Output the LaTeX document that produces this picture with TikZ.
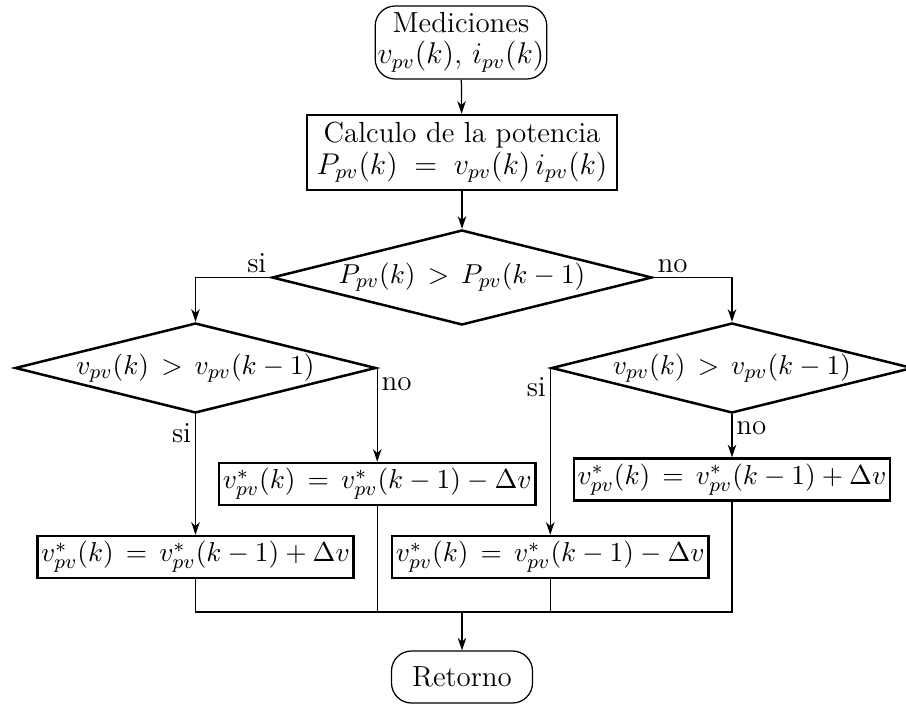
\documentclass[tikz,border=0pt]{standalone}
\usetikzlibrary{shapes.geometric,arrows.meta,calc}
\begin{document}
\begin{tikzpicture}[x=0.4pt,y=-0.4pt,
  every node/.style={font=\fontsize{11}{13}\selectfont},
  bigtext/.style={font=\fontsize{11.6}{13.5}\selectfont},
  term/.style={draw,rectangle,rounded corners=8pt,line width=0.5pt,align=center,inner sep=1pt,bigtext},
  proc/.style={draw,rectangle,line width=1pt,align=center,inner sep=1.5pt},
  dec/.style={draw,diamond,line width=1pt,inner sep=0pt,aspect=4},
  conn/.style={draw,line width=0.5pt,-{Stealth[length=5pt,width=3.4pt,inset=1.5pt]}},
  line/.style={draw,line width=0.5pt},
  lbl/.style={inner sep=1.5pt,bigtext}]
\useasboundingbox (0,0) rectangle (906,705);
% nodes
\node[term,minimum width=64.8pt,minimum height=29.2pt] (med) at (461,42.5)
  {Mediciones\\[-1pt]$v_{pv}(k),\, i_{pv}(k)$};
\node[proc,bigtext,minimum width=124pt,minimum height=30pt] (calc) at (462,152.5)
  {Calculo de la potencia\\[-1pt]$P_{pv}(k) \;=\; v_{pv}(k)\,i_{pv}(k)$};
\node[dec,minimum width=152pt,minimum height=38pt] (d1) at (462,277.5)
  {$P_{pv}(k) \,>\, P_{pv}(k-1)$};
\node[dec,minimum width=144.4pt,minimum height=36pt] (d2) at (195.5,368)
  {$v_{pv}(k) \,>\, v_{pv}(k-1)$};
\node[dec,minimum width=144.4pt,minimum height=36pt] (d3) at (732,368)
  {$v_{pv}(k) \,>\, v_{pv}(k-1)$};
\coordinate (yA) at (0,484);
\coordinate (yB) at (0,479.5);
\coordinate (yC) at (0,557);
\node[proc,minimum width=122.8pt,minimum height=16.8pt] (bA) at (d2.east |- yA)
  {$v^{*}_{pv}(k) \,=\, v^{*}_{pv}(k-1) - \Delta v$};
\node[proc,minimum width=123.6pt,minimum height=16.8pt] (bB) at (d3.south |- yB)
  {$v^{*}_{pv}(k) \,=\, v^{*}_{pv}(k-1) + \Delta v$};
\node[proc,minimum width=122.4pt,minimum height=16.8pt] (bC) at (d2.south |- yC)
  {$v^{*}_{pv}(k) \,=\, v^{*}_{pv}(k-1) + \Delta v$};
\node[proc,minimum width=123.2pt,minimum height=16.8pt] (bD) at (d3.west |- yC)
  {$v^{*}_{pv}(k) \,=\, v^{*}_{pv}(k-1) - \Delta v$};
\node[term,minimum width=56.4pt,minimum height=20.8pt] (ret) at (462,677) {Retorno};
\coordinate (j) at (462,612);
% connectors
\draw[conn] (med) -- (calc);
\draw[conn] (calc) -- (d1);
\draw[conn] (d1.west) node[lbl,anchor=south east]{si} -| (d2.north);
\draw[conn] (d1.east) node[lbl,anchor=south west]{no} -| (d3.north);
\draw[conn] (d2.east) node[lbl,anchor=north west,yshift=-2pt]{no} -- (bA.north);
\draw[conn] (d2.south) node[lbl,anchor=north east,yshift=-2pt]{si} -- (bC.north);
\draw[conn] (d3.west) node[lbl,anchor=north east,yshift=-2pt]{si} -- (bD.north);
\draw[conn] (d3.south) node[lbl,anchor=north west,yshift=-1pt]{no} -- (bB.north);
\draw[line] (bC.south) |- (j) -| (bB.south);
\draw[line] (bA.south) -- (bA.south |- j);
\draw[line] (bD.south) -- (bD.south |- j);
\draw[conn] (j) -- (ret);
\end{tikzpicture}
\end{document}
